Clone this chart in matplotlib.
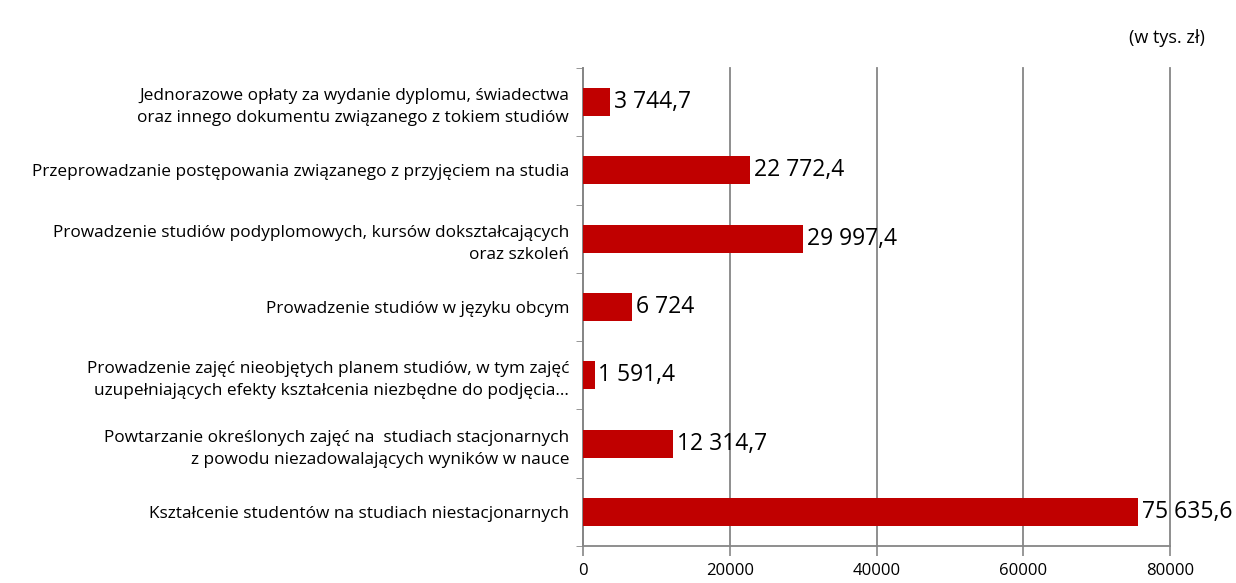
import matplotlib.pyplot as plt
import numpy as np

plt.rcParams['font.family'] = ['Open Sans', 'DejaVu Sans']

categories = [
    "Jednorazowe opłaty za wydanie dyplomu, świadectwa\noraz innego dokumentu związanego z tokiem studiów",
    "Przeprowadzanie postępowania związanego z przyjęciem na studia",
    "Prowadzenie studiów podyplomowych, kursów dokształcających\noraz szkoleń",
    "Prowadzenie studiów w języku obcym",
    "Prowadzenie zajęć nieobjętych planem studiów, w tym zajęć\nuzupełniających efekty kształcenia niezbędne do podjęcia...",
    "Powtarzanie określonych zajęć na  studiach stacjonarnych\nz powodu niezadowalających wyników w nauce",
    "Kształcenie studentów na studiach niestacjonarnych",
]
values = [3744.7, 22772.4, 29997.4, 6724.0, 1591.4, 12314.7, 75635.6]
value_labels = ["3 744,7", "22 772,4", "29 997,4", "6 724", "1 591,4", "12 314,7", "75 635,6"]
xticks = [0, 20000, 40000, 60000, 80000]

fig = plt.figure(figsize=(12.36, 5.83), dpi=100)
ax = fig.add_axes([0.4717, 0.0635, 0.4749, 0.820])

y = np.arange(len(categories))
ax.barh(y, values, height=0.41, color='#C00000', zorder=3)
for yi, v, lab in zip(y, values, value_labels):
    ax.text(v + 500, yi, lab, va='center', ha='left', fontsize=16.5, color='#000000', zorder=4)

ax.set_ylim(len(categories) - 0.5, -0.5)
ax.set_xlim(0, 80000)
ax.set_xticks(xticks)
ax.set_xticklabels([str(t) for t in xticks], fontsize=12)
ax.set_yticks(y)
ax.set_yticklabels(categories, fontsize=12.4, linespacing=1.5)
ax.set_yticks(np.arange(len(categories) + 1) - 0.5, minor=True)
ax.tick_params(axis='y', which='major', length=0, pad=10)
ax.tick_params(axis='y', which='minor', length=5, color='#868686')
ax.tick_params(axis='x', length=7, width=1.2, color='#868686', pad=5)
ax.xaxis.grid(True, color='#868686', linewidth=1.3, zorder=0)
for gl in ax.get_xgridlines():
    gl.set_clip_on(False)
for s in ['top', 'right']:
    ax.spines[s].set_visible(False)
ax.spines['left'].set_color('#868686')
ax.spines['left'].set_linewidth(1.3)
ax.spines['bottom'].set_color('#868686')
ax.spines['bottom'].set_linewidth(1.3)

fig.text(0.975, 0.935, "(w tys. zł)", ha='right', va='center', fontsize=13)

plt.savefig('out.png', dpi=100)
